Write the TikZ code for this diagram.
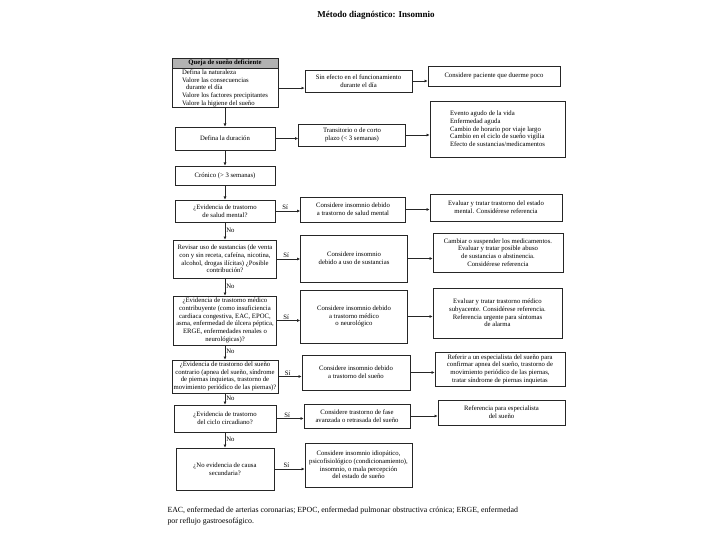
\documentclass[tikz,border=0pt]{standalone}
\usepackage{fontspec}
\setmainfont{Liberation Serif}
\usetikzlibrary{arrows.meta,positioning}
\tikzset{
  box/.style={draw=black!85, line width=0.6pt, align=center, inner sep=1pt,
    font=\fontsize{6.7}{7.7}\selectfont, minimum width=#1},
  box/.default=100pt,
  lbox/.style={box=#1, align=left},
  arr/.style={draw=black!85, line width=0.8pt, -{Latex[length=3.2pt,width=3pt]}},
  lab/.style={font=\fontsize{6.7}{7.7}\selectfont, inner sep=1pt}
}
\begin{document}
\begin{tikzpicture}[x=1pt,y=-1pt]
\useasboundingbox (0,0) rectangle (720,540);
% title
\node[font=\bfseries\fontsize{9}{10}\selectfont] (title) at (376,15) {Método diagnóstico: Insomnio};
% left column
\node[box=106pt, minimum height=10pt, fill=black!30, font=\bfseries\fontsize{6.7}{7.7}\selectfont] (qh) at (225,63) {Queja de sueño deficiente};
\node[lbox=106pt, minimum height=37pt, anchor=north] (qb) at (qh.south) {Defina la naturaleza\\Valore las consecuencias\\\hspace{4pt}durante el día\\Valore los factores precipitantes\\Valore la higiene del sueño};
\node[box=100pt, minimum height=23pt] (dur) at (225,138.5) {Defina la duración};
\node[box=100pt, minimum height=19pt] (cron) at (225,175.5) {Crónico (\textgreater{} 3 semanas)};
\node[box=100pt, minimum height=22pt] (mh) at (225,211) {¿Evidencia de trastorno\\de salud mental?};
\node[box=103pt, minimum height=38pt] (sub) at (225,259) {Revisar uso de sustancias (de venta\\con y sin receta, cafeína, nicotina,\\alcohol, drogas ilícitas) ¿Posible\\contribución?};
\node[box=103pt, minimum height=49pt] (med) at (225,320.5) {¿Evidencia de trastorno médico\\contribuyente (como insuficiencia\\cardiaca congestiva, EAC, EPOC,\\asma, enfermedad de úlcera péptica,\\ERGE, enfermedades renales o\\neurológicas)?};
\node[box=106pt, minimum height=33pt] (sl) at (225,376.5) {¿Evidencia de trastorno del sueño\\contrario (apnea del sueño, síndrome\\de piernas inquietas, trastorno de\\movimiento periódico de las piernas)?};
\node[box=102pt, minimum height=27pt] (cir) at (225,418.5) {¿Evidencia de trastorno\\del ciclo circadiano?};
\node[box=98pt, minimum height=42pt] (nov) at (225,469) {¿No evidencia de causa\\secundaria?};
% middle column
\node[box=107pt, minimum height=22pt] (sin) at (358.5,81) {Sin efecto en el funcionamiento\\durante el día};
\node[box=107pt, minimum height=22pt] (trans) at (352,135) {Transitorio o de corto\\plazo (\textless{} 3 semanas)};
\node[box=105pt, minimum height=25pt] (mhc) at (353,209.5) {Considere insomnio debido\\a trastorno de salud mental};
\node[box=107pt, minimum height=47pt] (subc) at (354,258.5) {Considere insomnio\\debido a uso de sustancias};
\node[box=107pt, minimum height=53pt] (medc) at (354,316.5) {Considere insomnio debido\\a trastorno médico\\o neurológico};
\node[box=108pt, minimum height=35pt] (slc) at (356,372.5) {Considere insomnio debido\\a trastorno del sueño};
\node[box=106pt, minimum height=24pt] (circ) at (357,416) {Considere trastorno de fase\\avanzada o retrasada del sueño};
\node[box=107pt, minimum height=44pt] (novc) at (358.5,465) {Considere insomnio idiopático,\\psicofisiológico (condicionamiento),\\insomnio, o mala percepción\\del estado de sueño};
% right column
\node[box=132pt, minimum height=20pt] (poco) at (494,76) {Considere paciente que duerme poco};
\node[lbox=135pt, minimum height=56pt] (list) at (497.5,129) {Evento agudo de la vida\\Enfermedad aguda\\Cambio de horario por viaje largo\\Cambio en el ciclo de sueño vigilia\\Efecto de sustancias/medicamentos};
\node[box=132pt, minimum height=27pt] (mhr) at (496,207.5) {Evaluar y tratar trastorno del estado\\mental. Considérese referencia};
\node[box=130pt, minimum height=39pt] (subr) at (498,252.5) {Cambiar o suspender los medicamentos.\\Evaluar y tratar posible abuso\\de sustancias o abstinencia.\\Considérese referencia};
\node[box=129pt, minimum height=50pt] (medr) at (497.5,313) {Evaluar y tratar trastorno médico\\subyacente. Considérese referencia.\\Referencia urgente para síntomas\\de alarma};
\node[box=130pt, minimum height=34pt] (slr) at (500,369) {Referir a un especialista del sueño para\\confirmar apnea del sueño, trastorno de\\movimiento periódico de las piernas,\\tratar síndrome de piernas inquietas};
\node[box=127pt, minimum height=25pt] (cirr) at (501.5,412.5) {Referencia para especialista\\del sueño};
% vertical arrows
\draw[arr] (qb.south) -- (dur.north);
\draw[arr] (dur.south) -- (cron.north);
\draw[arr] (cron.south) -- (mh.north);
\draw[arr] (mh.south) -- node[lab, right, pos=0.45] (no1) {No} (sub.north);
\draw[arr] (sub.south) -- node[lab, right, pos=0.45] (no2) {No} (med.north);
\draw[arr] (med.south) -- node[lab, right, pos=0.45] (no3) {No} (sl.north);
\draw[arr] (sl.south) -- node[lab, right, pos=0.45] (no4) {No} (cir.north);
\draw[arr] (cir.south) -- node[lab, right, pos=0.45] (no5) {No} (nov.north);
% horizontal arrows
\draw[arr] (qb.east) -- (qb.east -| sin.west);
\draw[arr] (sin.east) -- (sin.east -| poco.west);
\draw[arr] (dur.east) -- (dur.east -| trans.west);
\draw[arr] (trans.east) -- (trans.east -| list.west);
\draw[arr] (mh.east) -- node[lab, above, pos=0.4] (si1) {Sí} (mh.east -| mhc.west);
\draw[arr] (mhc.east) -- (mhc.east -| mhr.west);
\draw[arr] (sub.east) -- node[lab, above, pos=0.4] (si2) {Sí} (sub.east -| subc.west);
\draw[arr] (subc.east) -- (subc.east -| subr.west);
\draw[arr] (med.east) -- node[lab, above, pos=0.4] (si3) {Sí} (med.east -| medc.west);
\draw[arr] (medc.east) -- (medc.east -| medr.west);
\draw[arr] (sl.east) -- node[lab, above, pos=0.4] (si4) {Sí} (sl.east -| slc.west);
\draw[arr] (slc.east) -- (slc.east -| slr.west);
\draw[arr] (cir.east) -- node[lab, above, pos=0.4] (si5) {Sí} (cir.east -| circ.west);
\draw[arr] (circ.east) -- (circ.east -| cirr.west);
\draw[arr] (nov.east) -- node[lab, above, pos=0.4] (si6) {Sí} (nov.east -| novc.west);
% footnote
\node[anchor=north west, align=left, font=\fontsize{7.85}{11}\selectfont] (foot) at (164,503) {EAC, enfermedad de arterias coronarias; EPOC, enfermedad pulmonar obstructiva crónica; ERGE, enfermedad\\por reflujo gastroesofágico.};
\end{tikzpicture}
\end{document}
